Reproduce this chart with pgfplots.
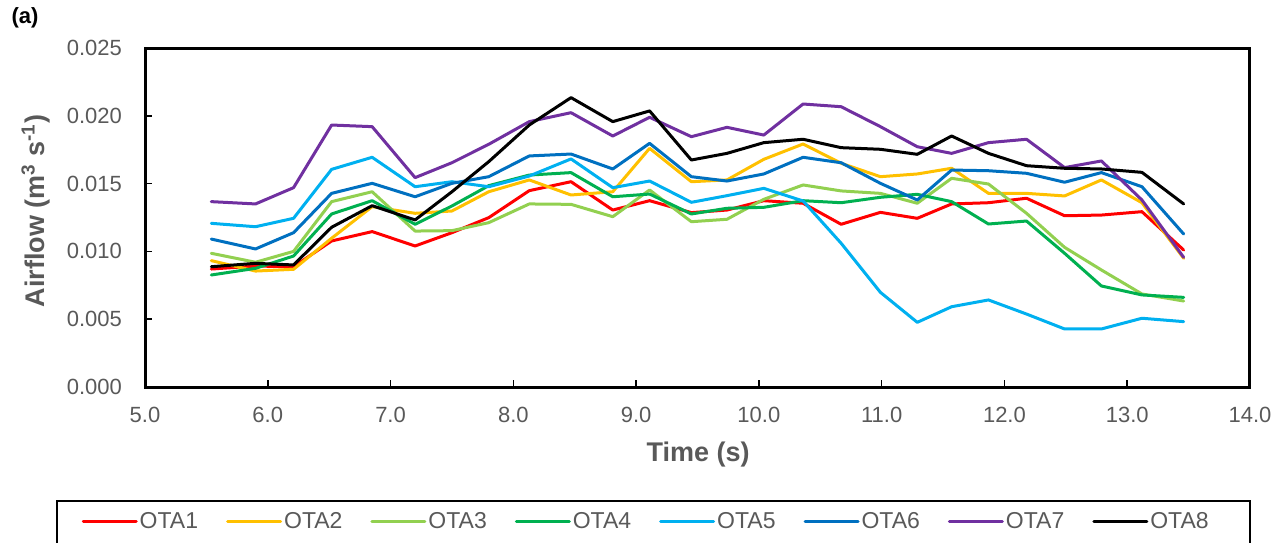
\documentclass[border=0pt]{standalone}
\usepackage{pgfplots}
\usepackage{pgfplotstable}
\pgfplotsset{compat=1.18}
\usepackage{fontspec}
\setmainfont{Liberation Sans}
\definecolor{c1}{HTML}{FF0000}
\definecolor{c2}{HTML}{FFC000}
\definecolor{c3}{HTML}{92D050}
\definecolor{c4}{HTML}{00B050}
\definecolor{c5}{HTML}{00B0F0}
\definecolor{c6}{HTML}{0070C0}
\definecolor{c7}{HTML}{7030A0}
\definecolor{c8}{HTML}{000000}
\definecolor{txtgrey}{HTML}{595959}
\newcommand{\lf}{\fontsize{11.5}{13}\selectfont\color{txtgrey}}

\pgfplotstableread{
t     o1      o2      o3      o4      o5      o6      o7      o8
5.54  0.00870 0.00932 0.00986 0.00826 0.01207 0.01091 0.01367 0.00887
5.90  0.00892 0.00855 0.00920 0.00875 0.01182 0.01018 0.01350 0.00912
6.21  0.00887 0.00868 0.01000 0.00966 0.01244 0.01138 0.01470 0.00900
6.52  0.01077 0.01097 0.01367 0.01276 0.01605 0.01428 0.01932 0.01178
6.85  0.01146 0.01330 0.01440 0.01374 0.01694 0.01502 0.01920 0.01337
7.20  0.01040 0.01281 0.01150 0.01200 0.01477 0.01403 0.01544 0.01232
7.50  0.01138 0.01298 0.01153 0.01335 0.01514 0.01502 0.01654 0.01440
7.80  0.01249 0.01440 0.01212 0.01485 0.01477 0.01551 0.01790 0.01662
8.13  0.01448 0.01527 0.01350 0.01563 0.01556 0.01704 0.01957 0.01932
8.47  0.01514 0.01416 0.01347 0.01581 0.01682 0.01718 0.02023 0.02134
8.81  0.01305 0.01440 0.01256 0.01403 0.01470 0.01608 0.01851 0.01957
9.11  0.01374 0.01760 0.01453 0.01423 0.01519 0.01797 0.01989 0.02036
9.45  0.01286 0.01514 0.01219 0.01276 0.01362 0.01551 0.01846 0.01674
9.74  0.01305 0.01527 0.01237 0.01318 0.01411 0.01519 0.01915 0.01723
10.04 0.01374 0.01679 0.01384 0.01325 0.01465 0.01571 0.01858 0.01802
10.36 0.01355 0.01792 0.01490 0.01374 0.01372 0.01694 0.02087 0.01827
10.67 0.01200 0.01650 0.01446 0.01359 0.01060 0.01654 0.02067 0.01765
10.99 0.01288 0.01551 0.01428 0.01399 0.00698 0.01502 0.01920 0.01753
11.29 0.01244 0.01571 0.01355 0.01421 0.00477 0.01379 0.01772 0.01716
11.57 0.01350 0.01613 0.01539 0.01367 0.00592 0.01600 0.01723 0.01851
11.87 0.01359 0.01428 0.01497 0.01202 0.00642 0.01595 0.01802 0.01723
12.18 0.01392 0.01428 0.01281 0.01224 0.00538 0.01576 0.01827 0.01632
12.49 0.01263 0.01409 0.01030 0.00986 0.00428 0.01510 0.01618 0.01613
12.79 0.01268 0.01527 0.00863 0.00745 0.00428 0.01581 0.01667 0.01608
13.12 0.01293 0.01359 0.00686 0.00679 0.00507 0.01477 0.01379 0.01583
13.46 0.01010 0.00949 0.00634 0.00661 0.00482 0.01128 0.00956 0.01350
}\datatable

\begin{document}
\begin{tikzpicture}
\path[use as bounding box] (0,0) rectangle (643pt,271pt);
\node[font=\fontsize{11}{13}\selectfont\bfseries, anchor=center] at (12.5pt,262pt) {(a)};
\begin{axis}[
  at={(72.5pt,77.5pt)}, anchor=south west,
  scale only axis, width=552.5pt, height=169.5pt,
  xmin=5, xmax=14, ymin=0, ymax=0.025,
  xtick={5,6,7,8,9,10,11,12,13,14},
  ytick={0,0.005,0.010,0.015,0.020,0.025},
  scaled y ticks=false,
  tick pos=left, tick align=inside,
  major tick length=3.5pt,
  every tick/.style={black, line width=0.8pt},
  axis line style={black, line width=1.5pt},
  /pgf/number format/assume math mode=true,
  xticklabel style={/pgf/number format/fixed, /pgf/number format/fixed zerofill, /pgf/number format/precision=1, yshift=-6.5pt},
  yticklabel style={/pgf/number format/fixed, /pgf/number format/fixed zerofill, /pgf/number format/precision=3, xshift=-8pt},
  ticklabel style={font=\fontsize{11}{13}\selectfont, text=txtgrey},
  xlabel={Time (s)},
  ylabel={Airflow (m\textsuperscript{3} s\textsuperscript{-1})},
  label style={font=\fontsize{13.5}{15}\selectfont\bfseries, text=txtgrey},
  xlabel style={at={(axis description cs:0.5005,-0.221)}, anchor=base},
  ylabel style={at={(axis description cs:-0.0905,0.519)}, anchor=base},
  legend columns=8,
  legend style={draw=none, fill=none, at={(axis description cs:-0.0576,-0.3968)}, anchor=west,
    inner xsep=0pt, inner ysep=0pt, font=\lf,
    nodes={inner xsep=1pt, inner ysep=1pt},
    /tikz/every even column/.append style={column sep=13pt}},
  legend image code/.code={\draw[#1, line width=1.5pt] (0pt,0pt) -- (26.5pt,0pt);},
  every axis plot/.append style={line width=1.5pt, line join=round, line cap=round},
]
\addplot[c1] table[x=t,y=o1] {\datatable}; \addlegendentry{\lf OTA1}
\addplot[c2] table[x=t,y=o2] {\datatable}; \addlegendentry{\lf OTA2}
\addplot[c3] table[x=t,y=o3] {\datatable}; \addlegendentry{\lf OTA3}
\addplot[c4] table[x=t,y=o4] {\datatable}; \addlegendentry{\lf OTA4}
\addplot[c5] table[x=t,y=o5] {\datatable}; \addlegendentry{\lf OTA5}
\addplot[c6] table[x=t,y=o6] {\datatable}; \addlegendentry{\lf OTA6}
\addplot[c7] table[x=t,y=o7] {\datatable}; \addlegendentry{\lf OTA7}
\addplot[c8] table[x=t,y=o8] {\datatable}; \addlegendentry{\lf OTA8}
\end{axis}
\draw[black, line width=1pt] (28.35pt,-5pt) rectangle (625pt,20.5pt);
\end{tikzpicture}
\end{document}
